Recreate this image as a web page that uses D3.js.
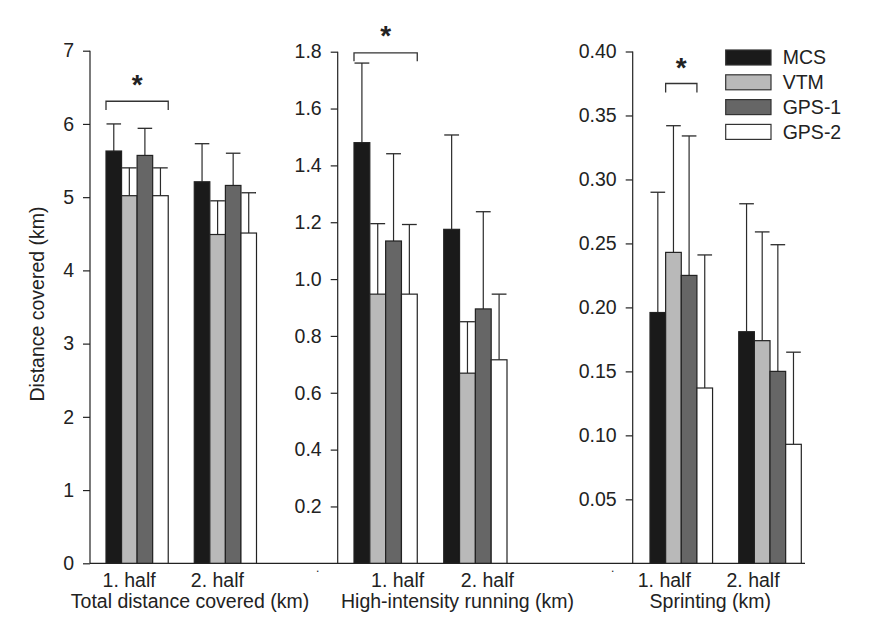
<!DOCTYPE html>
<html>
<head>
<meta charset="utf-8">
<script src="https://cdn.jsdelivr.net/npm/d3@7"></script>
<style>
  html, body { margin: 0; padding: 0; background: #fff; }
  svg { display: block; font-family: "Liberation Sans", Arial, Helvetica, sans-serif; }
</style>
</head>
<body>
<svg id="chart" width="880" height="634"></svg>
<script>
// ---------- DATA ----------
const categories = ["1. half", "2. half"];
const seriesNames = ["MCS", "VTM", "GPS-1", "GPS-2"];
const seriesColors = ["#1a1a1a", "#b9b9b9", "#666666", "#ffffff"];

const panelTitles = ["Total distance covered (km)", "High-intensity running (km)", "Sprinting (km)"];
const yAxisTitle = "Distance covered (km)";

// means [half][series]
const totalMeans = [[5.63, 5.02, 5.57, 5.02], [5.21, 4.49, 5.16, 4.51]];
const totalUpper = [[6.00, 5.40, 5.94, 5.40], [5.73, 4.95, 5.60, 5.06]];

const hirMeans = [[1.48, 0.947, 1.134, 0.947], [1.175, 0.669, 0.895, 0.716]];
const hirUpper = [[1.76, 1.195, 1.441, 1.192], [1.507, 0.85, 1.237, 0.947]];

const sprintMeans = [[0.196, 0.243, 0.225, 0.137], [0.181, 0.174, 0.150, 0.093]];
const sprintUpper = [[0.290, 0.342, 0.334, 0.241], [0.281, 0.259, 0.249, 0.165]];

const totalTicks = [0, 1, 2, 3, 4, 5, 6, 7];
const hirTicks = [0.2, 0.4, 0.6, 0.8, 1.0, 1.2, 1.4, 1.6, 1.8];
const sprintTicks = [0.05, 0.10, 0.15, 0.20, 0.25, 0.30, 0.35, 0.40];

// significance brackets: [half index, first series, last series, bracket value, drop value]
const totalSig = [0, 0, 3, 6.31, 6.19];
const hirSig = [0, 0, 3, 1.796, 1.766];
const sprintSig = [0, 1, 2, 0.375, 0.368];

// ---------- LAYOUT ----------
const svg = d3.select("#chart");
const baseY = 563.3;
const FS = 19.5;
const ink = "#222";

const panels = [
  { means: totalMeans, upper: totalUpper, ticks: totalTicks, fmt: d3.format("d"), max: 7,
    axisX: 90, top: 50.7, bars: [106, 256.5], labelShift: -8, titleX: 190, sig: totalSig, starY: 77.7 },
  { means: hirMeans, upper: hirUpper, ticks: hirTicks, fmt: d3.format(".1f"), max: 1.8,
    axisX: 337.7, top: 51.7, bars: [354, 507], labelShift: 12, titleX: 457.5, sig: hirSig, starY: 28.8 },
  { means: sprintMeans, upper: sprintUpper, ticks: sprintTicks, fmt: d3.format(".2f"), max: 0.40,
    axisX: 632.7, top: 51.5, bars: [650, 801.3], labelShift: -17, titleX: 710.3, sig: sprintSig, starY: 60.8 }
];

// baseline across all panels
svg.append("line")
  .attr("x1", panels[0].axisX).attr("x2", 805)
  .attr("y1", baseY).attr("y2", baseY)
  .attr("stroke", ink).attr("stroke-width", 1.3);

panels.forEach((p, pi) => {
  const y = d3.scaleLinear().domain([0, p.max]).range([baseY, p.top]);
  const x0 = d3.scaleBand().domain(categories).range(p.bars).paddingInner(0.295).paddingOuter(0);
  const x1 = d3.scaleBand().domain(seriesNames).range([0, x0.bandwidth()]).padding(0);

  // axis
  const axis = d3.axisLeft(y).tickValues(p.ticks).tickFormat(p.fmt).tickSize(7).tickSizeOuter(0).tickPadding(9);
  const g = svg.append("g").attr("transform", `translate(${p.axisX},0)`).call(axis);
  g.select(".domain").attr("stroke", ink).attr("stroke-width", 1.2)
    .attr("d", `M0,${p.top}V${baseY}`);
  g.selectAll(".tick line").attr("stroke", ink).attr("stroke-width", 1.2);
  g.selectAll(".tick text").attr("fill", ink).style("font-size", FS + "px")
    .style("font-family", "'Liberation Sans', Arial, sans-serif");

  // bars
  const groups = svg.append("g").selectAll("g").data(categories).join("g")
    .attr("transform", d => `translate(${x0(d)},0)`);

  groups.each(function(cat, ci) {
    const gg = d3.select(this);
    const rows = seriesNames.map((s, si) => ({ s, si, m: p.means[ci][si], u: p.upper[ci][si] }));
    // error bars
    rows.forEach(r => {
      const cx = x1(r.s) + x1.bandwidth() / 2;
      gg.append("line").attr("x1", cx).attr("x2", cx).attr("y1", y(r.m)).attr("y2", y(r.u))
        .attr("stroke", "#2b2b2b").attr("stroke-width", 1.2);
      gg.append("line").attr("x1", cx - x1.bandwidth() / 2 + 0.5).attr("x2", cx + x1.bandwidth() / 2 - 0.5)
        .attr("y1", y(r.u)).attr("y2", y(r.u))
        .attr("stroke", "#2b2b2b").attr("stroke-width", 1.3);
    });
    gg.selectAll("rect").data(rows).join("rect")
      .attr("x", d => x1(d.s)).attr("width", x1.bandwidth())
      .attr("y", d => y(d.m)).attr("height", d => baseY - y(d.m))
      .attr("fill", d => seriesColors[d.si])
      .attr("stroke", "#222").attr("stroke-width", 1.2);
  });

  // category labels
  svg.append("g").selectAll("text").data(categories).join("text")
    .attr("x", d => x0(d) + x0.bandwidth() / 2 + p.labelShift)
    .attr("y", 586.7)
    .attr("text-anchor", "middle").attr("fill", ink).style("font-size", FS + "px")
    .text(d => d);

  // panel title
  svg.append("text").attr("x", p.titleX).attr("y", 607.5)
    .attr("text-anchor", "middle").attr("fill", ink).style("font-size", FS + "px")
    .text(panelTitles[pi]);

  // significance bracket
  const [hi, s0, s1, v, vd] = p.sig;
  const cat = categories[hi];
  const bx0 = x0(cat) + x1(seriesNames[s0]);
  const bx1 = x0(cat) + x1(seriesNames[s1]) + x1.bandwidth();
  svg.append("path")
    .attr("d", `M${bx0},${y(vd)}V${y(v)}H${bx1}V${y(vd)}`)
    .attr("fill", "none").attr("stroke", "#333").attr("stroke-width", 1.3);
  svg.append("text").attr("x", (bx0 + bx1) / 2).attr("y", p.starY + 16)
    .attr("text-anchor", "middle").attr("fill", ink)
    .style("font-size", "28px").style("font-weight", "bold").text("*");
});

// stray dots seen in the original figure
[[317.7, 572], [612.7, 572]].forEach(([dx, dy]) => {
  svg.append("text").attr("x", dx).attr("y", dy).attr("text-anchor", "middle")
    .attr("fill", ink).style("font-size", "12px").text(".");
});

// y-axis title
svg.append("text")
  .attr("transform", "translate(44,304) rotate(-90)")
  .attr("text-anchor", "middle").attr("fill", ink).style("font-size", FS + "px")
  .text(yAxisTitle);

// legend
const legend = svg.append("g").attr("transform", "translate(725.7,50)");
const li = legend.selectAll("g").data(seriesNames).join("g")
  .attr("transform", (d, i) => `translate(0,${i * 24.8})`);
li.append("rect").attr("width", 45.3).attr("height", 15)
  .attr("fill", (d, i) => seriesColors[i]).attr("stroke", "#333").attr("stroke-width", 1.2);
li.append("text").attr("x", 57).attr("y", 14.3).attr("fill", ink)
  .style("font-size", FS + "px").text(d => d);
</script>
</body>
</html>
